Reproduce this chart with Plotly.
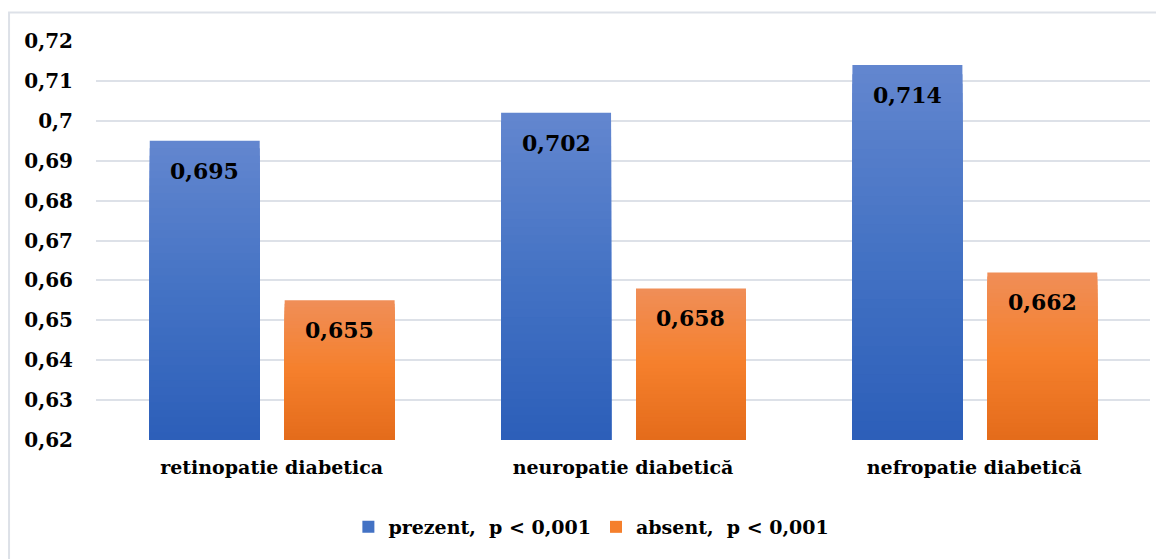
import plotly.graph_objects as go

# ---- data ----
categories = ["retinopatie diabetica", "neuropatie diabetică", "nefropatie diabetică"]
prezent = [0.695, 0.702, 0.714]
absent = [0.655, 0.658, 0.662]
value_labels_prezent = ["0,695", "0,702", "0,714"]
value_labels_absent = ["0,655", "0,658", "0,662"]
series_names = ["prezent,\u00a0\u00a0p < 0,001", "absent,\u00a0\u00a0p < 0,001"]
y_ticks = [0.62, 0.63, 0.64, 0.65, 0.66, 0.67, 0.68, 0.69, 0.70, 0.71, 0.72]
y_tick_labels = ["0,62", "0,63", "0,64", "0,65", "0,66", "0,67", "0,68", "0,69", "0,7", "0,71", "0,72"]
y_min, y_max = 0.62, 0.72

# ---- style ----
FONT = "DejaVu Serif"
BAR_W = 0.313
OFFSETS = [-0.347, 0.037]
GRAD = [
    [(99, 135, 207), (68, 114, 196), (44, 95, 185)],     # blue: top, mid, bottom
    [(240, 142, 88), (245, 128, 44), (228, 107, 27)],    # orange
]
N = 40

def grad_color(stops, t):
    if t <= 0.5:
        a, b, f = stops[0], stops[1], t / 0.5
    else:
        a, b, f = stops[1], stops[2], (t - 0.5) / 0.5
    c = [round(a[i] + (b[i] - a[i]) * f) for i in range(3)]
    return f"rgb({c[0]},{c[1]},{c[2]})"

fig = go.Figure()
xs = list(range(len(categories)))

for s, vals in enumerate([prezent, absent]):
    for k in range(N):
        frac = 1 - k / N
        t = (k + 0.5) / N
        fig.add_trace(go.Bar(
            x=xs,
            y=[(v - y_min) * frac for v in vals],
            base=[y_min] * len(vals),
            width=BAR_W,
            offset=OFFSETS[s],
            marker=dict(color=grad_color(GRAD[s], t), line=dict(width=0)),
            name=series_names[s],
            legendgroup=f"s{s}",
            showlegend=(k == N // 2),
            hoverinfo="skip",
        ))

# value labels
for s, (vals, labs) in enumerate([(prezent, value_labels_prezent), (absent, value_labels_absent)]):
    for i, (v, lab) in enumerate(zip(vals, labs)):
        fig.add_annotation(
            x=i + OFFSETS[s] + BAR_W / 2, y=v, xref="x", yref="y",
            text="<b>" + lab + "</b>", showarrow=False, yanchor="middle", yshift=-30,
            font=dict(family=FONT, size=22, color="black"),
        )

# outer frame
fig.add_shape(type="rect", xref="paper", yref="paper",
              x0=-0.0825, x1=1.1, y0=-0.5, y1=1.0714,
              line=dict(color="#dde1e8", width=2), fillcolor="rgba(0,0,0,0)", layer="below")

fig.update_layout(
    width=1164, height=559,
    margin=dict(l=88, r=22, t=33, b=127),
    paper_bgcolor="white", plot_bgcolor="white",
    barmode="overlay",
    font=dict(family=FONT, color="black"),
    xaxis=dict(
        range=[-0.5, 2.5], tickvals=xs, ticktext=["<b>" + c + "</b>" for c in categories],
        showgrid=False, zeroline=False, showline=False, ticks="",
        tickfont=dict(family=FONT, size=19, color="black"),
        ticklabelstandoff=14,
    ),
    yaxis=dict(
        range=[y_min, y_max], tickvals=y_ticks, ticktext=["<b>" + t + "</b>" for t in y_tick_labels],
        showgrid=True, gridcolor="#dde1e8", gridwidth=1.5,
        zeroline=False, showline=False, ticks="",
        tickfont=dict(family=FONT, size=20, color="black"),
        ticklabelstandoff=22,
    ),
    legend=dict(
        orientation="h", x=0.47, xanchor="center", y=-0.218, yanchor="middle",
        font=dict(family=FONT, size=19, color="black"),
        bgcolor="rgba(0,0,0,0)", itemwidth=30, traceorder="normal",
    ),
    showlegend=True,
)
fig.data[N // 2].name = "<b>" + series_names[0] + "</b>"
fig.data[N + N // 2].name = "<b>" + series_names[1] + "</b>"

fig.write_html("out.html")
